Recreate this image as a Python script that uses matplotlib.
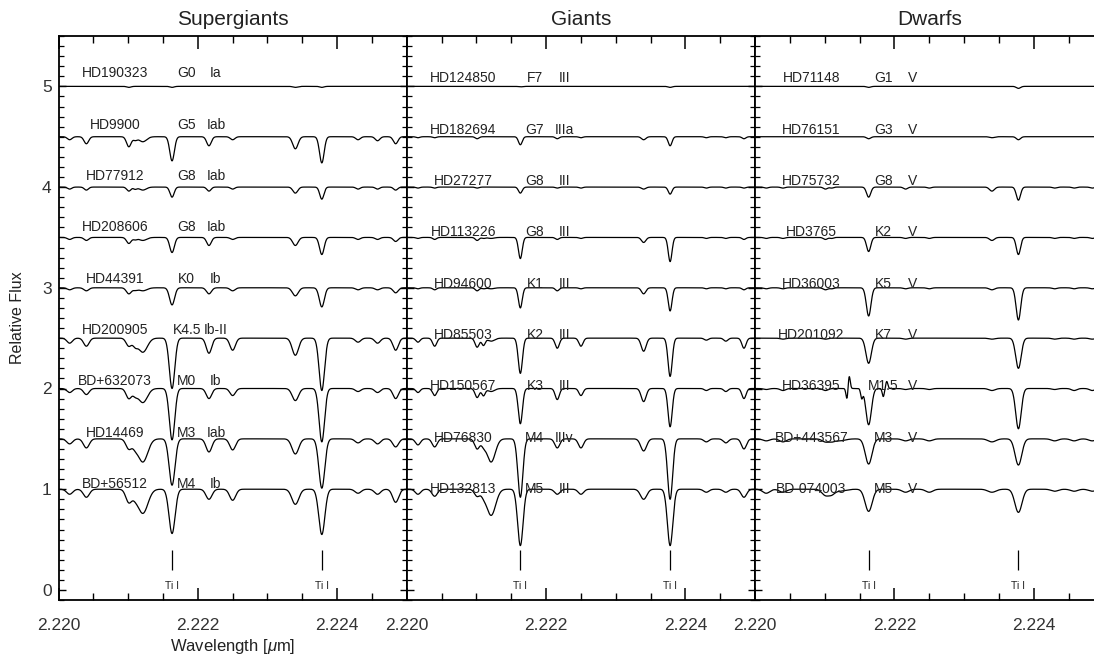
import matplotlib
matplotlib.use("Agg")
import matplotlib.pyplot as plt
from matplotlib.ticker import MultipleLocator, FormatStrFormatter
import numpy as np

plt.rcParams['font.family'] = ['Liberation Sans', 'DejaVu Sans']
plt.rcParams['mathtext.fontset'] = 'custom'
plt.rcParams['mathtext.it'] = 'Liberation Sans:italic'
plt.rcParams['mathtext.rm'] = 'Liberation Sans'

# absorption features (wavelength in micron)
line_centers = [2.22016, 2.22040, 2.22101, 2.22110, 2.22121, 2.22163, 2.22216,
                2.22250, 2.22340, 2.22378, 2.22430, 2.22458, 2.22484]
line_sigmas = [3e-5, 3e-5, 3e-5, 2.5e-5, 5e-5, 3e-5, 3e-5, 3e-5, 3.5e-5, 3e-5,
               3e-5, 3e-5, 3e-5]
ti_lines = [2.22163, 2.22378]
offsets = [5.0, 4.5, 4.0, 3.5, 3.0, 2.5, 2.0, 1.5, 1.0]

# Supergiants
sg_names = ['HD190323', 'HD9900', 'HD77912', 'HD208606', 'HD44391', 'HD200905',
            'BD+632073', 'HD14469', 'BD+56512']
sg_types = ['G0', 'G5', 'G8', 'G8', 'K0', 'K4.5', 'M0', 'M3', 'M4']
sg_lum = ['Ia', 'Iab', 'Iab', 'Iab', 'Ib', 'Ib-II', 'Ib', 'Iab', 'Ib']
sg_depths = [
    [0, 0, 0.01, 0, 0, 0.01, 0, 0, 0.01, 0.01, 0, 0, 0],
    [0.03, 0.07, 0.10, 0.03, 0.05, 0.24, 0.09, 0.03, 0.12, 0.26, 0.03, 0.04, 0.07],
    [0.02, 0.03, 0.04, 0.02, 0.03, 0.10, 0.04, 0.02, 0.06, 0.12, 0.02, 0.02, 0.03],
    [0.02, 0.03, 0.06, 0.02, 0.03, 0.15, 0.08, 0.02, 0.08, 0.17, 0.02, 0.02, 0.04],
    [0.02, 0.03, 0.06, 0.02, 0.03, 0.17, 0.06, 0.03, 0.08, 0.19, 0.02, 0.02, 0.05],
    [0.05, 0.08, 0.08, 0.06, 0.14, 0.50, 0.15, 0.12, 0.17, 0.52, 0.04, 0.05, 0.12],
    [0.04, 0.06, 0.10, 0.05, 0.14, 0.51, 0.10, 0.07, 0.12, 0.53, 0.03, 0.04, 0.10],
    [0.05, 0.09, 0.10, 0.05, 0.23, 0.46, 0.13, 0.11, 0.15, 0.49, 0.04, 0.05, 0.08],
    [0.05, 0.08, 0.13, 0.04, 0.24, 0.44, 0.10, 0.11, 0.15, 0.45, 0.04, 0.05, 0.13],
]
sg_widths = [1.0, 1.1, 1.0, 1.1, 1.2, 1.3, 1.3, 1.4, 1.45]

# Giants
gi_names = ['HD124850', 'HD182694', 'HD27277', 'HD113226', 'HD94600', 'HD85503',
            'HD150567', 'HD76830', 'HD132813']
gi_types = ['F7', 'G7', 'G8', 'G8', 'K1', 'K2', 'K3', 'M4', 'M5']
gi_lum = ['III', 'IIIa', 'III', 'III', 'III', 'III', 'III', 'IIIv', 'III']
gi_depths = [
    [0, 0, 0, 0, 0, 0.005, 0, 0, 0, 0.01, 0, 0, 0],
    [0.01, 0.01, 0.02, 0, 0, 0.08, 0.02, 0.01, 0.03, 0.09, 0.01, 0.01, 0.02],
    [0.01, 0.01, 0.01, 0, 0, 0.06, 0.01, 0.01, 0.02, 0.07, 0.01, 0.01, 0.01],
    [0.01, 0.02, 0.03, 0.01, 0.01, 0.21, 0.02, 0.01, 0.05, 0.24, 0.01, 0.01, 0.02],
    [0.01, 0.02, 0.03, 0.01, 0.01, 0.20, 0.03, 0.01, 0.06, 0.23, 0.01, 0.01, 0.02],
    [0.04, 0.08, 0.09, 0.07, 0.03, 0.35, 0.10, 0.08, 0.13, 0.38, 0.02, 0.03, 0.10],
    [0.04, 0.07, 0.09, 0.07, 0.03, 0.35, 0.11, 0.07, 0.13, 0.38, 0.02, 0.03, 0.10],
    [0.06, 0.08, 0.10, 0.05, 0.23, 0.58, 0.09, 0.09, 0.12, 0.60, 0.03, 0.04, 0.10],
    [0.05, 0.07, 0.07, 0.04, 0.26, 0.56, 0.05, 0.05, 0.10, 0.56, 0.03, 0.03, 0.08],
]
gi_widths = [1.0, 0.9, 0.9, 0.9, 0.9, 1.0, 1.0, 1.2, 1.3]

# Dwarfs
dw_names = ['HD71148', 'HD76151', 'HD75732', 'HD3765', 'HD36003', 'HD201092',
            'HD36395', 'BD+443567', 'BD-074003']
dw_types = ['G1', 'G3', 'G8', 'K2', 'K5', 'K7', 'M1.5', 'M3', 'M5']
dw_lum = ['V'] * 9
dw_depths = [
    [0, 0, 0, 0, 0, 0.01, 0, 0, 0, 0.02, 0, 0, 0],
    [0, 0, 0, 0, 0, 0.02, 0, 0, 0.01, 0.03, 0, 0, 0],
    [0.01, 0.01, 0.02, 0.01, 0, 0.10, 0.02, 0.01, 0.04, 0.13, 0.01, 0.01, 0.01],
    [0.01, 0.01, 0.02, 0.01, 0, 0.14, 0.01, 0.01, 0.03, 0.17, 0.01, 0.01, 0.01],
    [0.01, 0.01, 0.02, 0.01, 0, 0.28, 0.01, 0.01, 0.02, 0.32, 0.01, 0.01, 0.01],
    [0, 0.01, 0.01, 0, 0, 0.25, 0.01, 0, 0.01, 0.30, 0.01, 0.01, 0.01],
    [0.01, 0.02, 0.02, 0, 0, 0.36, 0.01, 0.01, 0.02, 0.40, 0.01, 0.02, 0.02],
    [0.02, 0.03, 0.03, 0.02, 0.02, 0.25, 0.02, 0.02, 0.03, 0.26, 0.02, 0.02, 0.02],
    [0.04, 0.03, 0.06, 0.04, 0.02, 0.22, 0.03, 0.03, 0.03, 0.23, 0.02, 0.02, 0.02],
]
dw_widths = [1.0, 1.0, 1.0, 1.0, 1.1, 1.3, 1.3, 1.6, 1.7]

# narrow emission/absorption structure around Ti I in HD36395
hd36395_centers = [2.22132, 2.22135, 2.22153, 2.22184, 2.22189]
hd36395_depths = [0.11, -0.13, 0.09, 0.08, -0.07]

wave = np.linspace(2.2195, 2.2255, 2400)


def spectrum(depths, wscale):
    flux = np.ones_like(wave)
    for c, d, s in zip(line_centers, depths, line_sigmas):
        flux -= d * np.exp(-0.5 * ((wave - c) / (s * wscale)) ** 2)
    return flux


panels = [
    ('Supergiants', sg_names, sg_types, sg_lum, sg_depths, sg_widths, 0.03),
    ('Giants', gi_names, gi_types, gi_lum, gi_depths, gi_widths, -0.02),
    ('Dwarfs', dw_names, dw_types, dw_lum, dw_depths, dw_widths, -0.02),
]

W, H = 1094, 666
fig = plt.figure(figsize=(W / 100, H / 100), dpi=100)
ax_w = 348.3 / W
tcol = '#222222'

for i, (title, names, types, lums, depths, widths, lshift) in enumerate(panels):
    ax = fig.add_axes([58.5 / W + i * ax_w, 66 / H, ax_w, 564 / H])
    for j, off in enumerate(offsets):
        flux = spectrum(depths[j], widths[j])
        if names[j] == 'HD36395':
            for c, d in zip(hd36395_centers, hd36395_depths):
                flux -= d * np.exp(-0.5 * ((wave - c) / 1.5e-5) ** 2)
        ax.plot(wave, flux - 1 + off, color='k', lw=0.9)
        ly = off * 1.02 + lshift
        ax.text(2.22081, ly, names[j], ha='center', va='center', fontsize=10, color=tcol)
        ax.text(2.22184, ly, types[j], ha='center', va='center', fontsize=10, color=tcol)
        ax.text(2.22226, ly, lums[j], ha='center', va='center', fontsize=10, color=tcol)

    ax.vlines(ti_lines, 0.2, 0.4, color='k', lw=0.9)
    for c in ti_lines:
        ax.text(c, 0.04, 'Ti I', ha='center', va='center', fontsize=7.5, color=tcol)

    ax.set_xlim(2.220, 2.225)
    ax.set_ylim(-0.1, 5.5)
    ax.xaxis.set_major_locator(MultipleLocator(0.002))
    ax.xaxis.set_minor_locator(MultipleLocator(0.0005))
    ax.xaxis.set_major_formatter(FormatStrFormatter('%.3f'))
    ax.yaxis.set_major_locator(MultipleLocator(1))
    ax.yaxis.set_minor_locator(MultipleLocator(0.1))
    ax.tick_params(which='both', direction='in', top=True, right=True, colors='k',
                   labelcolor='#333333')
    ax.tick_params(axis='x', which='major', length=9, width=1.1, labelsize=12.5, pad=13)
    ax.tick_params(axis='x', which='minor', length=5, width=1.0)
    ax.tick_params(axis='y', which='major', length=5, width=1.0, labelsize=12.5, pad=5)
    ax.tick_params(axis='y', which='minor', length=3.5, width=0.9)
    ax.tick_params(labelleft=(i == 0))
    for sp in ax.spines.values():
        sp.set_linewidth(1.3)
    ax.set_title(title, fontsize=15, pad=8, color=tcol)

    if i == 0:
        ax.set_xlabel(r'Wavelength [$\mu$m]', fontsize=12, color=tcol)
        ax.xaxis.set_label_coords(0.5, -0.066)
        ax.xaxis.label.set_va('top')

fig.text(18 / W, 1 - 318 / H, 'Relative Flux', rotation=90, ha='center', va='center',
         fontsize=11.5, color=tcol)

fig.savefig('out.png', dpi=100)
